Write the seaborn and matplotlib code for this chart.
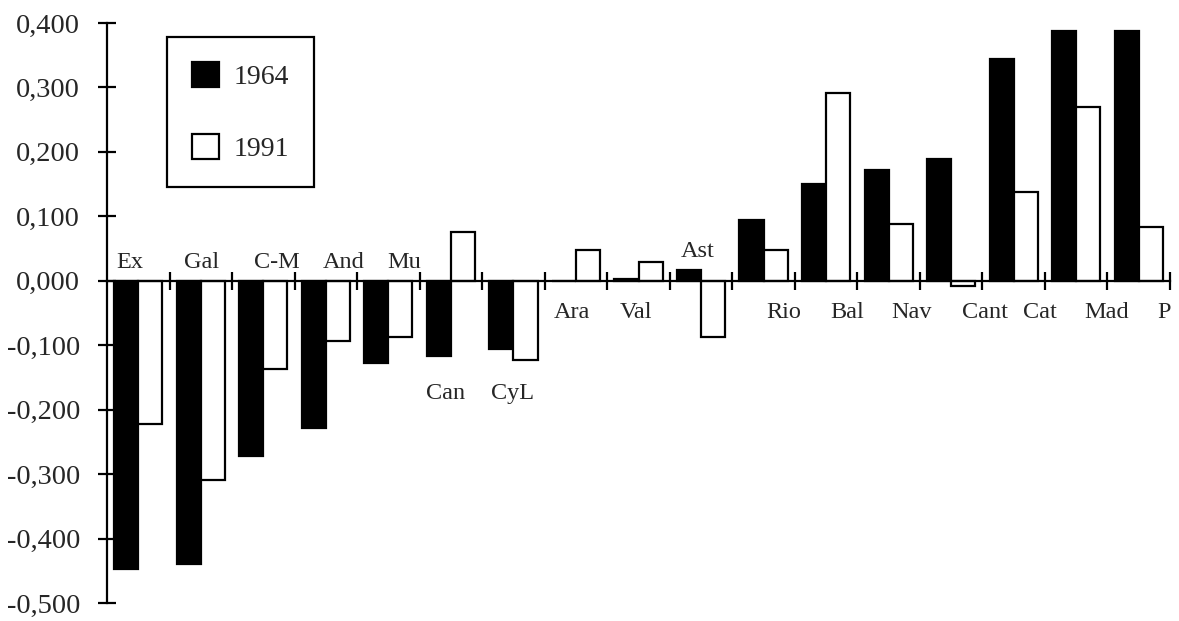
import numpy as np
import pandas as pd
import matplotlib
matplotlib.use("Agg")
import matplotlib.pyplot as plt
from matplotlib.patches import Patch
import seaborn as sns

# --------------------------
# Data
# --------------------------

regions = ["Ex", "Gal", "C-M", "And", "Mu", "Can", "CyL", "Ara", "Val",
           "Ast", "Rio", "Bal", "Nav", "Cant", "Cat", "Mad", "P"]

v1964 = [-0.447, -0.439, -0.272, -0.228, -0.127, -0.116, -0.106, 0.000, 0.002,
         0.016, 0.095, 0.150, 0.172, 0.189, 0.344, 0.388, 0.388]

v1991 = [-0.222, -0.309, -0.137, -0.093, -0.088, 0.076, -0.123, 0.047, 0.029,
         -0.088, 0.047, 0.292, 0.088, -0.008, 0.137, 0.270, 0.084]

years = ["1964", "1991"]

yticks = [-0.5, -0.4, -0.3, -0.2, -0.1, 0.0, 0.1, 0.2, 0.3, 0.4]

# label placement (offset from category centre, baseline in data units)
label_dx = [-0.13, 0.02, 0.22, 0.29, 0.25, -0.08, -0.02, -0.06, -0.04,
            -0.05, 0.33, 0.33, 0.37, 0.54, 0.42, 0.49, 0.40]
label_y = [0.020, 0.020, 0.020, 0.020, 0.020, -0.183, -0.183, -0.057, -0.057,
           0.037, -0.057, -0.057, -0.057, -0.057, -0.057, -0.057, -0.057]

df = pd.DataFrame({
    "region": regions * 2,
    "year": [years[0]] * len(regions) + [years[1]] * len(regions),
    "value": v1964 + v1991,
})

# --------------------------
# Style
# --------------------------

sns.set_style("ticks")
plt.rcParams["font.family"] = ["Liberation Serif", "DejaVu Serif"]

fig = plt.figure(figsize=(11.79, 6.21), dpi=100)
ax = fig.add_axes([107 / 1179, 1 - 603 / 621, 1063 / 1179, 580 / 621])

sns.barplot(
    data=df,
    x="region",
    y="value",
    hue="year",
    order=regions,
    hue_order=years,
    palette={"1964": "black", "1991": "white"},
    edgecolor="black",
    linewidth=1.6,
    width=0.77,
    saturation=1,
    legend=False,
    ax=ax,
)

ax.set_xlim(-0.5, len(regions) - 0.5)
ax.set_ylim(-0.5, 0.4)

# --------------------------
# Axes
# --------------------------

for side in ["top", "right"]:
    ax.spines[side].set_visible(False)
ax.spines["bottom"].set_position(("data", 0))
for side in ["left", "bottom"]:
    ax.spines[side].set_linewidth(1.6)
    ax.spines[side].set_color("black")

ax.set_xticks(np.arange(0.5, len(regions)))
ax.set_xticklabels([])
ax.tick_params(axis="x", bottom=True, direction="inout", length=13,
               width=1.6, color="black")

ax.set_yticks(yticks)
ax.set_yticklabels([f"{round(v, 1):.3f}".replace(".", ",") for v in yticks],
                   fontsize=20.5)
ax.tick_params(axis="y", left=True, direction="inout", length=13, width=1.6,
               color="black", pad=13)

ax.set_xlabel("")
ax.set_ylabel("")

for i, name in enumerate(regions):
    ax.text(i + label_dx[i], label_y[i], name, ha="center", va="baseline",
            fontsize=17.5, zorder=5)

# --------------------------
# Legend
# --------------------------

handles = [
    Patch(facecolor="black", edgecolor="black", linewidth=1.6, label="1964"),
    Patch(facecolor="white", edgecolor="black", linewidth=1.6, label="1991"),
]
leg = ax.legend(
    handles=handles,
    loc="upper left",
    bbox_to_anchor=(0.056, 0.976),
    borderaxespad=0,
    fontsize=20,
    handlelength=1.0,
    handleheight=1.0,
    handletextpad=0.5,
    labelspacing=1.6,
    borderpad=0.9,
    frameon=True,
    fancybox=False,
    framealpha=1,
    edgecolor="black",
)
leg.get_frame().set_linewidth(1.6)

fig.savefig("out.png", dpi=100)
